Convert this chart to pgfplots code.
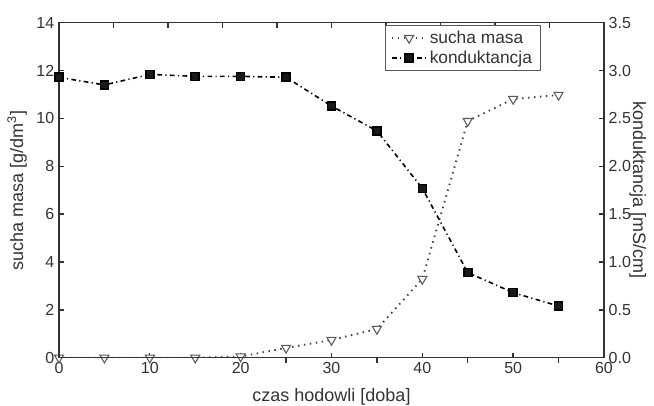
\documentclass[border=0pt]{standalone}
\usepackage{fontspec}
\setmainfont{Liberation Sans}
\usepackage{pgfplots}
\pgfplotsset{compat=1.18}
\definecolor{axisgray}{HTML}{333333}
\definecolor{markgray}{HTML}{5A5A5A}

\pgfplotsset{
  common/.style={
    scale only axis, width=408.75pt, height=251.25pt,
    at={(0,0)}, anchor=south west,
    xmin=0, xmax=60,
    axis line style={axisgray, line width=1.1pt},
    tick style={axisgray, line width=1.0pt},
    major tick length=3.8pt,
    tick align=inside,
    tick label style={font=\fontsize{12}{14}\selectfont, text=axisgray},
    label style={font=\fontsize{13.5}{16}\selectfont, text=axisgray},
    /pgf/number format/assume math mode=true,
  },
  suchastyle/.style={black!75, line width=1.4pt, dash pattern=on 1.1pt off 3.4pt,
    mark=triangle*, mark size=3.9pt,
    mark options={solid, fill=white, draw=markgray, line width=0.8pt, rotate=180}},
  kondstyle/.style={black, line width=1.2pt, dash pattern=on 3.5pt off 2.5pt on 0.9pt off 2.5pt,
    mark=square*, mark size=3.0pt, mark options={solid, fill=black!90, draw=black}},
}

\begin{document}
\begin{tikzpicture}
\path[use as bounding box] (-44.25pt,-36.2pt) rectangle (446.25pt,268.3pt);

% left axis: sucha masa
\begin{axis}[
  common,
  ymin=0, ymax=14,
  ytick={0,2,...,14},
  ytick pos=left,
  xtick={0,10,...,60},
  xtick pos=left,
  extra x ticks={5,15,...,55},
  extra x tick labels={},
  extra x tick style={tick align=outside},
  xlabel={czas hodowli [doba]},
  ylabel={sucha masa [g/dm$^{\mathrm{3}}$]},
  xlabel style={at={(axis description cs:0.5,-0.117)}, anchor=center},
  ylabel style={at={(axis description cs:-0.077,0.5)}, anchor=center, rotate=0},
]
\addplot[suchastyle] coordinates {
  (0,0) (5,0) (10,0) (15,0) (20,0.05) (25,0.41) (30,0.74)
  (35,1.2) (40,3.29) (45,9.89) (50,10.81) (55,10.98)
};
\end{axis}

% right axis: konduktancja
\begin{axis}[
  common,
  ymin=0, ymax=3.5,
  ytick={0,0.5,...,3.5},
  ytick pos=right,
  yticklabel pos=right,
  yticklabel style={/pgf/number format/.cd, fixed, fixed zerofill, precision=1},
  xtick={0,6,...,60},
  xtick pos=right,
  xticklabels={},
  ylabel={konduktancja [mS/cm]},
  ylabel style={at={(axis description cs:1.062,0.5)}, anchor=center, rotate=180},
  legend style={at={(axis description cs:0.741,0.993)}, anchor=north,
    draw=markgray, line width=0.6pt, font=\fontsize{13}{15}\selectfont,
    text=axisgray, legend cell align=left, inner xsep=4pt, inner ysep=2pt, row sep=0pt},
  legend image code/.code={
    \draw[mark repeat=2, mark phase=2, #1] plot coordinates {(0cm,0cm) (0.45cm,0cm) (0.9cm,0cm)};
  },
]
\addlegendimage{suchastyle}
\addlegendentry{sucha masa}
\addplot[kondstyle] coordinates {
  (0,2.93) (5,2.85) (10,2.96) (15,2.94) (20,2.94) (25,2.93)
  (30,2.63) (35,2.37) (40,1.77) (45,0.89) (50,0.68) (55,0.54)
};
\addlegendentry{konduktancja}
\end{axis}
\end{tikzpicture}
\end{document}
